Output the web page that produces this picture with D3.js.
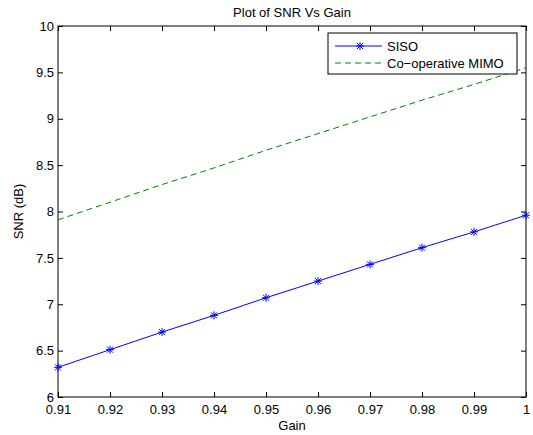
<!DOCTYPE html>
<html>
    <head>
        <script src="https://d3js.org/d3.v7.min.js"></script>
        <style>
            body { margin:0; background:#fff; font-family:"Liberation Sans", Arial, sans-serif; }
            svg { display:block; }
            .axis text { font-size:13px; fill:#000; }
            .axis .domain { stroke:none; }
            .axis line { stroke:#000; }
        </style>
    </head>
    <body>
        <svg width="533" height="435"></svg>
    </body>
    <script>
        // data
        const gain = [0.91, 0.92, 0.93, 0.94, 0.95, 0.96, 0.97, 0.98, 0.99, 1.0];
        const sisoSnr = [6.32, 6.51, 6.70, 6.88, 7.07, 7.25, 7.43, 7.61, 7.78, 7.96];
        const mimoSnr = [7.91, 8.10, 8.29, 8.47, 8.66, 8.84, 9.02, 9.20, 9.37, 9.55];
        const xTicks = [0.91, 0.92, 0.93, 0.94, 0.95, 0.96, 0.97, 0.98, 0.99, 1];
        const yTicks = [6, 6.5, 7, 7.5, 8, 8.5, 9, 9.5, 10];
        const seriesNames = ['SISO', 'Co\u2212operative MIMO'];

        const svg = d3.select('svg');
        const margin = { top:26, bottom:38, right:7, left:58 };
        const width = 533, height = 435;
        const innerWidth = width - margin.left - margin.right;
        const innerHeight = height - margin.top - margin.bottom;

        const xScale = d3.scaleLinear().domain([0.91, 1]).range([0, innerWidth]);
        const yScale = d3.scaleLinear().domain([6, 10]).range([innerHeight, 0]);

        const g = svg.append('g')
                     .attr('transform', `translate(${margin.left},${margin.top})`);

        // axes with inward ticks on all four sides
        const tickLen = 5;
        g.append('g').attr('class','axis')
         .attr('transform', `translate(0,${innerHeight})`)
         .call(d3.axisBottom(xScale).tickValues(xTicks).tickSize(-tickLen).tickPadding(8)
               .tickFormat(d => d === 1 ? '1' : d3.format('.2f')(d)));
        g.append('g').attr('class','axis')
         .call(d3.axisTop(xScale).tickValues(xTicks).tickSize(-tickLen))
         .selectAll('text').remove();
        g.append('g').attr('class','axis')
         .call(d3.axisLeft(yScale).tickValues(yTicks).tickSize(-tickLen).tickPadding(4)
               .tickFormat(d3.format('')));
        g.append('g').attr('class','axis')
         .attr('transform', `translate(${innerWidth},0)`)
         .call(d3.axisRight(yScale).tickValues(yTicks).tickSize(-tickLen))
         .selectAll('text').remove();

        g.append('rect')
         .attr('width', innerWidth).attr('height', innerHeight)
         .attr('fill','none').attr('stroke','#000').attr('stroke-width',1);

        const line = d3.line().x((d, i) => xScale(gain[i])).y(d => yScale(d));

        // Co-operative MIMO (dashed green)
        g.append('path').datum(mimoSnr)
         .attr('d', line).attr('fill','none')
         .attr('stroke','#008000').attr('stroke-width',1)
         .attr('stroke-dasharray','6,4');

        // SISO (blue with asterisks)
        g.append('path').datum(sisoSnr)
         .attr('d', line).attr('fill','none')
         .attr('stroke','#0000ff').attr('stroke-width',1);

        function asterisk(sel, r) {
            sel.append('line').attr('x1',-r).attr('x2',r).attr('y1',0).attr('y2',0);
            sel.append('line').attr('x1',0).attr('x2',0).attr('y1',-r).attr('y2',r);
            const k = r * 0.75;
            sel.append('line').attr('x1',-k).attr('x2',k).attr('y1',-k).attr('y2',k);
            sel.append('line').attr('x1',-k).attr('x2',k).attr('y1',k).attr('y2',-k);
        }
        g.selectAll('.mark')
         .data(sisoSnr)
         .enter().append('g')
         .attr('class','mark')
         .attr('transform', (d, i) => `translate(${xScale(gain[i])},${yScale(d)})`)
         .attr('stroke','#0000ff').attr('stroke-width',1)
         .each(function() { asterisk(d3.select(this), 4); });

        // title and labels
        svg.append('text')
           .attr('x', margin.left + innerWidth/2).attr('y', 17)
           .attr('text-anchor','middle').style('font-size','13px')
           .text('Plot of SNR Vs Gain');
        svg.append('text')
           .attr('x', margin.left + innerWidth/2).attr('y', 430)
           .attr('text-anchor','middle').style('font-size','13px')
           .text('Gain');
        svg.append('text')
           .attr('transform', `translate(23,${margin.top + innerHeight/2}) rotate(-90)`)
           .attr('text-anchor','middle').style('font-size','13px')
           .text('SNR (dB)');

        // legend
        const legX = 328 - margin.left, legY = 33 - margin.top;
        const legend = g.append('g').attr('transform', `translate(${legX},${legY})`);
        legend.append('rect')
              .attr('width', 189).attr('height', 41)
              .attr('fill','#fff').attr('stroke','#000').attr('stroke-width',1);
        const rows = legend.selectAll('.row')
              .data(seriesNames)
              .enter().append('g')
              .attr('transform', (d, i) => `translate(0,${13 + i*17})`);
        rows.append('line')
            .attr('x1', 7).attr('x2', 54).attr('y1', 0).attr('y2', 0)
            .attr('stroke', (d, i) => i === 0 ? '#0000ff' : '#008000')
            .attr('stroke-dasharray', (d, i) => i === 0 ? null : '6,4');
        rows.filter((d, i) => i === 0)
            .append('g').attr('transform','translate(32,0)')
            .attr('stroke','#0000ff')
            .each(function() { asterisk(d3.select(this), 4); });
        rows.append('text')
            .attr('x', 59).attr('y', 0).attr('dy','0.35em')
            .style('font-size','13px')
            .text(d => d);
    </script>
</html>
